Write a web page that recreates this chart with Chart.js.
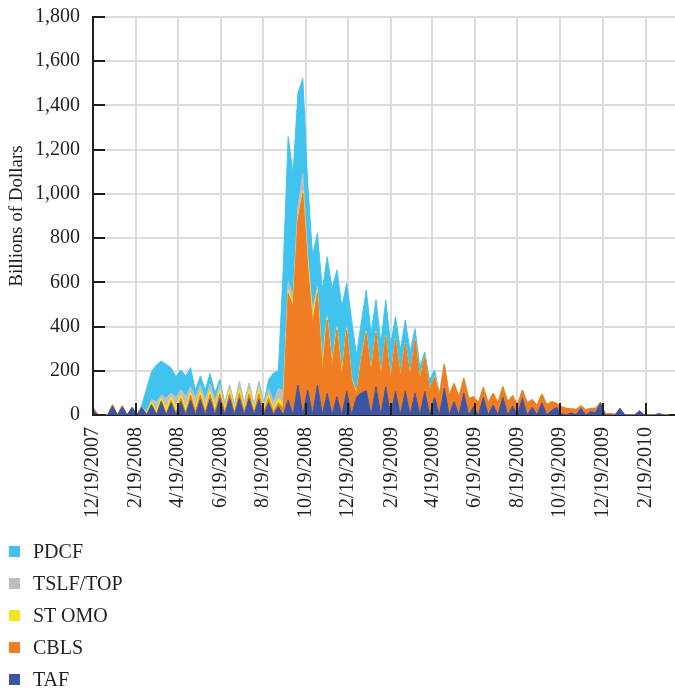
<!DOCTYPE html>
<html>
<head>
<meta charset="utf-8">
<script src="https://cdn.jsdelivr.net/npm/chart.js@4.4.0/dist/chart.umd.min.js"></script>
<style>
    body { margin: 0; background: #fff; }
    #wrap { position: relative; width: 675px; height: 692px; }
    #mojGraf { position: absolute; left: 0; top: 0; }
    #legend { position: absolute; left: 0; top: 0; width: 675px; height: 692px; pointer-events: none;
              font-family: "Liberation Serif", serif; font-size: 20px; color: #231f20; }
    .leg-row { position: absolute; left: 9px; height: 32px; display: flex; align-items: center; }
    .leg-box { width: 11px; height: 11px; margin-right: 13px; }
</style>
</head>
<body>
<div id="wrap">
    <canvas id="mojGraf" width="675" height="530"></canvas>
    <div id="legend"></div>
</div>
<script>
// tick labels on the date axis
const tickLabels = ['12/19/2007', '2/19/2008', '4/19/2008', '6/19/2008', '8/19/2008', '10/19/2008',
    '12/19/2008', '2/19/2009', '4/19/2009', '6/19/2009', '8/19/2009', '10/19/2009', '12/19/2009', '2/19/2010'];

// weekly values, billions of dollars, first week = 12/19/2007
const taf = [22, 0, 0, 0, 40, 0, 36, 0, 33, 0,
    33, 0, 45, 0, 60, 0, 55, 0, 60, 0,
    68, 0, 70, 0, 72, 0, 75, 0, 75, 0,
    75, 0, 75, 0, 70, 0, 55, 0, 38, 0,
    68, 0, 136, 0, 113, 0, 136, 0, 98, 0,
    83, 0, 106, 0, 80, 100, 110, 0, 127, 0,
    127, 0, 106, 0, 106, 0, 98, 0, 106, 0,
    80, 0, 121, 0, 60, 0, 98, 0, 38, 0,
    80, 0, 45, 0, 80, 0, 40, 0, 75, 0,
    35, 0, 55, 0, 20, 35, 5, 0, 10, 0,
    30, 0, 15, 10, 53, 0, 0, 0, 30, 0,
    0, 0, 18, 0, 0, 0, 6, 0, 0];

const cbls = [13, 0, 0, 0, 6, 0, 6, 0, 3, 0,
    3, 3, 5, 5, 5, 5, 10, 10, 15, 10,
    22, 15, 20, 15, 20, 15, 20, 15, 20, 12,
    23, 15, 20, 12, 25, 15, 20, 15, 17, 30,
    483, 490, 746, 1003, 558, 415, 415, 190, 332, 218,
    301, 173, 278, 158, 10, 150, 261, 190, 244, 173,
    227, 158, 233, 173, 214, 173, 242, 158, 158, 110,
    93, 90, 108, 90, 83, 80, 68, 75, 45, 55,
    45, 55, 53, 55, 48, 60, 48, 45, 38, 55,
    35, 45, 40, 48, 40, 18, 33, 30, 18, 25,
    12, 23, 15, 20, 5, 5, 7, 2, 0, 0,
    0, 0, 0, 0, 0, 0, 0, 0, 0];

const stOmo = [0, 0, 0, 0, 0, 0, 0, 0, 0, 0,
    0, 3, 10, 15, 12, 25, 20, 25, 20, 25,
    15, 20, 20, 20, 20, 20, 20, 15, 20, 16,
    22, 15, 23, 16, 25, 15, 20, 15, 20, 20,
    14, 15, 13, 12, 19, 30, 14, 28, 10, 12,
    8, 12, 6, 7, 5, 5, 5, 5, 4, 3,
    3, 3, 3, 2, 2, 2, 2, 2, 2, 0,
    2, 0, 0, 0, 0, 0, 0, 0, 0, 0,
    0, 0, 0, 0, 0, 0, 0, 0, 0, 0,
    0, 0, 0, 0, 0, 0, 0, 0, 0, 0,
    0, 0, 0, 0, 0, 0, 0, 0, 0, 0,
    0, 0, 0, 0, 0, 0, 0, 0, 0];

const tslf = [0, 0, 0, 0, 0, 0, 0, 0, 0, 0,
    0, 10, 10, 40, 13, 45, 15, 45, 20, 50,
    23, 45, 25, 35, 28, 30, 25, 23, 21, 17,
    31, 23, 25, 17, 31, 23, 25, 30, 45, 60,
    38, 35, 47, 78, 34, 30, 15, 30, 10, 10,
    8, 10, 6, 5, 5, 5, 4, 5, 5, 4,
    3, 4, 3, 3, 3, 2, 2, 2, 2, 0,
    0, 0, 0, 0, 0, 0, 0, 0, 0, 0,
    0, 0, 0, 0, 0, 0, 0, 0, 0, 0,
    0, 0, 0, 0, 0, 0, 0, 0, 0, 0,
    0, 0, 0, 0, 0, 0, 0, 0, 0, 0,
    0, 0, 0, 0, 0, 0, 0, 0, 0];

const pdcf = [0, 0, 0, 0, 0, 0, 0, 0, 0, 0,
    9, 104, 126, 166, 154, 154, 114, 93, 89, 91,
    86, 30, 41, 43, 48, 35, 21, 0, 0, 0,
    0, 0, 0, 0, 0, 0, 40, 130, 80, 560,
    656, 553, 513, 430, 326, 245, 242, 317, 266, 333,
    256, 295, 200, 260, 171, 160, 185, 171, 140, 146,
    160, 152, 100, 116, 105, 109, 46, 56, 17, 48,
    29, 8, 0, 0, 0, 0, 0, 0, 0, 0,
    0, 0, 0, 0, 0, 0, 0, 0, 0, 0,
    0, 0, 0, 0, 0, 0, 0, 0, 0, 0,
    0, 0, 0, 0, 0, 0, 0, 0, 0, 0,
    0, 0, 0, 0, 0, 0, 0, 0, 0];

const boje = {
    'TAF':      '#3B54A4',
    'CBLS':     '#F07C24',
    'ST OMO':   '#EEE51C',
    'TSLF/TOP': '#BDBEC0',
    'PDCF':     '#40C3EE'
};

// days since 12/19/2007
function uDane(s) {
    const [m, d, y] = s.split('/').map(Number);
    return (Date.UTC(y, m - 1, d) - Date.UTC(2007, 11, 19)) / 86400000;
}
const tickDays = tickLabels.map(uDane);

function tocke(arr) {
    return arr.map((v, i) => ({ x: i * 7, y: v }));
}

function serija(naziv, arr, fill) {
    return {
        label: naziv,
        data: tocke(arr),
        backgroundColor: boje[naziv],
        borderColor: boje[naziv],
        borderWidth: 1,
        pointRadius: 0,
        tension: 0,
        fill: fill
    };
}

function bezPadding(s) {
    s.paddingTop = 0; s.paddingBottom = 0; s.paddingLeft = 0; s.paddingRight = 0;
}

const font = { family: 'Liberation Serif', size: 20 };
const tamno = '#231f20';

const innerTicks = {
    id: 'innerTicks',
    afterDatasetsDraw(chart) {
        const { ctx, chartArea, scales } = chart;
        ctx.save();
        ctx.strokeStyle = tamno;
        ctx.lineWidth = 2;
        ctx.beginPath();
        scales.y.ticks.forEach(t => {
            const y = Math.round(scales.y.getPixelForValue(t.value));
            ctx.moveTo(chartArea.left, y);
            ctx.lineTo(chartArea.left + 12, y);
        });
        scales.x.ticks.forEach(t => {
            const x = Math.round(scales.x.getPixelForValue(t.value));
            ctx.moveTo(x, chartArea.bottom);
            ctx.lineTo(x, chartArea.bottom - 12);
        });
        ctx.stroke();
        ctx.restore();
    }
};

var ctx = document.getElementById('mojGraf').getContext('2d');
var myChart = new Chart(ctx, {
    type: 'line',
    data: {
        datasets: [
            serija('TAF', taf, 'origin'),
            serija('CBLS', cbls, '-1'),
            serija('ST OMO', stOmo, '-1'),
            serija('TSLF/TOP', tslf, '-1'),
            serija('PDCF', pdcf, '-1')
        ]
    },
    options: {
        responsive: false,
        animation: false,
        layout: { padding: { top: 17, right: 0, bottom: 0, left: 0 } },
        plugins: { legend: { display: false }, tooltip: { enabled: false } },
        scales: {
            x: {
                type: 'linear',
                min: 0,
                max: 835,
                afterBuildTicks: s => { s.ticks = tickDays.map(v => ({ value: v })); },
                afterFit: s => { s.height = 115; bezPadding(s); },
                ticks: {
                    autoSkip: false, maxRotation: 90, minRotation: 90, padding: 12,
                    color: tamno, font: font,
                    callback: (v, i) => tickLabels[i]
                },
                grid: { color: '#dcdcdc', lineWidth: 2, drawTicks: false },
                border: { color: tamno, width: 2 }
            },
            y: {
                stacked: true,
                min: 0,
                max: 1800,
                afterFit: s => { s.width = 93; bezPadding(s); },
                ticks: {
                    stepSize: 200, padding: 13, color: tamno, font: font,
                    callback: v => v.toLocaleString('en-US')
                },
                grid: { color: '#dcdcdc', lineWidth: 2, drawTicks: false },
                border: { color: tamno, width: 2 },
                title: {
                    display: true, text: 'Billions of Dollars', color: tamno,
                    font: { family: 'Liberation Serif', size: 19 },
                    padding: { top: 6, bottom: 0 }
                }
            }
        }
    },
    plugins: [innerTicks]
});

// legend below the chart, top series first
var legenda = document.getElementById('legend');
const redovi = [551.5, 583.5, 615.5, 647.5, 679.5];
myChart.data.datasets.slice().reverse().forEach((ds, i) => {
    var red = document.createElement('div');
    red.className = 'leg-row';
    red.style.top = (redovi[i] - 16) + 'px';
    red.innerHTML = '<span class="leg-box" style="background:' + ds.backgroundColor + '"></span>' + ds.label;
    legenda.appendChild(red);
});
</script>
</body>
</html>
